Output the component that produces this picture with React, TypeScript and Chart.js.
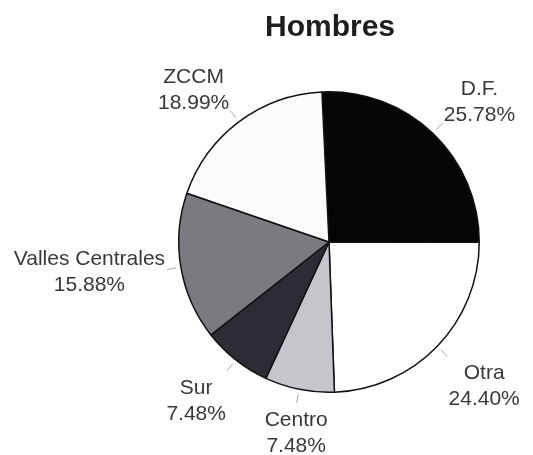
import React, { useEffect, useRef } from "react";
import { Chart, registerables } from "chart.js";

Chart.register(...registerables);

const title = "Hombres";
const categories = ["D.F.", "Otra", "Centro", "Sur", "Valles Centrales", "ZCCM"];
const values = [25.78, 24.4, 7.48, 7.48, 15.88, 18.99];
const sliceColors = ["#050505", "#ffffff", "#c5c5cb", "#2c2c34", "#7a7a80", "#fbfbfb"];

const FONT = '"Liberation Sans", Arial, Helvetica, sans-serif';

const labelPlugin = {
  id: "outerLabels",
  afterDraw(chart: any) {
    const ctx = chart.ctx;
    const area = chart.chartArea;
    const meta = chart.getDatasetMeta(0);
    ctx.save();
    // title
    ctx.font = `bold 30px ${FONT}`;
    ctx.fillStyle = "#1e1e1e";
    ctx.textAlign = "center";
    ctx.textBaseline = "alphabetic";
    ctx.fillText(title, (area.left + area.right) / 2 + 1, 36);

    ctx.font = `21px ${FONT}`;
    const lineH = 26;
    const side = (v: number) => Math.sign(v) * Math.max(0, Math.min(1, (Math.abs(v) - 0.2) * 2.5));
    meta.data.forEach((arc: any, i: number) => {
      const p = arc.getProps(["x", "y", "startAngle", "endAngle", "outerRadius"], true);
      const mid = (p.startAngle + p.endAngle) / 2;
      const dx = Math.cos(mid);
      const dy = Math.sin(mid);
      const R = p.outerRadius;
      // leader line
      ctx.strokeStyle = "#a8a8a8";
      ctx.lineWidth = 1;
      ctx.beginPath();
      ctx.moveTo(p.x + dx * (R + 5), p.y + dy * (R + 5));
      ctx.lineTo(p.x + dx * (R + 14), p.y + dy * (R + 14));
      ctx.stroke();
      // label box
      const lines = [categories[i], values[i].toFixed(2) + "%"];
      const w = Math.max(...lines.map((l) => ctx.measureText(l).width));
      const px = p.x + dx * (R + 16);
      const py = p.y + dy * (R + 16);
      const cx = px + (w / 2) * side(dx);
      const fy = side(dy);
      const cy = py + fy * (fy < 0 ? 22 : 26) + 1;
      ctx.fillStyle = "#383838";
      ctx.textAlign = "center";
      ctx.textBaseline = "alphabetic";
      ctx.fillText(lines[0], cx, cy - lineH / 2 + 7.5);
      ctx.fillText(lines[1], cx, cy + lineH / 2 + 7.5);
    });
    ctx.restore();
  },
};

export default function App() {
  const ref = useRef<HTMLCanvasElement>(null);
  useEffect(() => {
    if (!ref.current) return;
    const chart = new Chart(ref.current, {
      type: "pie",
      data: {
        labels: categories,
        datasets: [
          {
            data: values,
            backgroundColor: sliceColors,
            borderColor: "#111111",
            borderWidth: 1.5,
          },
        ],
      },
      options: {
        responsive: false,
        animation: false,
        rotation: -2.7,
        layout: { padding: { left: 178, top: 91, right: 53, bottom: 62 } },
        plugins: {
          legend: { display: false },
          tooltip: { enabled: false },
          title: { display: false },
        },
      },
      plugins: [labelPlugin],
    });
    return () => chart.destroy();
  }, []);
  return (
    <div style={{ position: "fixed", left: 0, top: 0, width: 533, height: 455, background: "#fff" }}>
      <canvas ref={ref} width={533} height={455} />
    </div>
  );
}
